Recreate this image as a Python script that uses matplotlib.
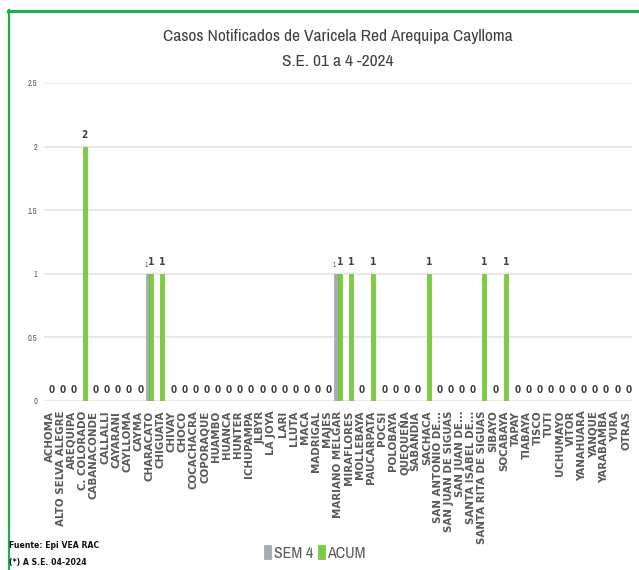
import matplotlib
matplotlib.use("Agg")
import matplotlib.pyplot as plt
from matplotlib.lines import Line2D
from matplotlib.patches import Patch
import numpy as np

districts = [
    "ACHOMA", "ALTO SELVA ALEGRE", "AREQUIPA", "C. COLORADO", "CABANACONDE",
    "CALLALLI", "CAYARANI", "CAYLLOMA", "CAYMA", "CHARACATO", "CHIGUATA",
    "CHIVAY", "CHOCO", "COCACHACRA", "COPORAQUE", "HUAMBO", "HUANCA",
    "HUNTER", "ICHUPAMPA", "JLBYR", "LA JOYA", "LARI", "LLUTA", "MACA",
    "MADRIGAL", "MAJES", "MARIANO MELGAR", "MIRAFLORES", "MOLLEBAYA",
    "PAUCARPATA", "POCSI", "POLOBAYA", "QUEQUEÑA", "SABANDIA", "SACHACA",
    "SAN ANTONIO DE...", "SAN JUAN DE SIGUAS", "SAN JUAN DE...",
    "SANTA ISABEL DE...", "SANTA RITA DE SIGUAS", "SIBAYO", "SOCABAYA",
    "TAPAY", "TIABAYA", "TISCO", "TUTI", "UCHUMAYO", "VITOR", "YANAHUARA",
    "YANQUE", "YARABAMBA", "YURA", "OTRAS",
]
sem4 = [0, 0, 0, 0, 0, 0, 0, 0, 0, 1, 0, 0, 0, 0, 0, 0, 0, 0, 0, 0, 0, 0,
        0, 0, 0, 0, 1, 0, 0, 0, 0, 0, 0, 0, 0, 0, 0, 0, 0, 0, 0, 0, 0, 0,
        0, 0, 0, 0, 0, 0, 0, 0, 0]
acum = [0, 0, 0, 2, 0, 0, 0, 0, 0, 1, 1, 0, 0, 0, 0, 0, 0, 0, 0, 0, 0, 0,
        0, 0, 0, 0, 1, 1, 0, 1, 0, 0, 0, 0, 1, 0, 0, 0, 0, 1, 0, 1, 0, 0,
        0, 0, 0, 0, 0, 0, 0, 0, 0]
yticks = [0, 0.5, 1, 1.5, 2, 2.5]
ytick_labels = ["0", "0.5", "1", "1.5", "2", "2.5"]

NARROW = ["Archivo Narrow", "DejaVu Sans"]
GREEN = "#78CF3A"
GRAY = "#A7ADB8"
TEXT = "#595959"
BOLD_COND = dict(family="DejaVu Sans", fontstretch="condensed", fontweight="bold")

fig = plt.figure(figsize=(6.39, 5.70), dpi=100)
fig.patch.set_facecolor("white")
W, H = 639, 570
ax = fig.add_axes([44 / W, 1 - 401 / H, (632 - 44) / W, (401 - 83) / H])

x = np.arange(len(districts))
bw = 0.34
ax.bar(x - 0.17, sem4, width=bw, color=GRAY, edgecolor="#8E95A1",
       linewidth=0.4, zorder=3, label="SEM 4")
ax.bar(x + 0.17, acum, width=bw, color=GREEN, edgecolor="#5FB22A",
       linewidth=0.4, zorder=3, label="ACUM")

for xi, v in zip(x, acum):
    ax.annotate(f"{v}", (xi + 0.17, v), xytext=(0, 6), textcoords="offset points",
                ha="center", va="baseline", fontsize=7.2, color="#404040",
                **BOLD_COND)
for xi, v in zip(x, sem4):
    if v:
        ax.annotate(f"{v}", (xi - 0.32, v), xytext=(0, 5), textcoords="offset points",
                    ha="center", va="baseline", fontsize=5, family=NARROW,
                    color="#595959")

ax.set_xlim(-0.5, len(districts) - 0.5)
ax.set_ylim(0, 2.5)
ax.set_yticks(yticks)
ax.set_yticklabels(ytick_labels, family=NARROW, fontsize=6, color=TEXT)
ax.set_xticks(x)
ax.set_xticklabels(districts, rotation=90, fontsize=7.4, fontweight="bold",
                   color=TEXT, family="DejaVu Sans")
ax.tick_params(axis="y", length=0, pad=5)
ax.tick_params(axis="x", length=0, pad=7)
for s in ax.spines.values():
    s.set_visible(False)
ax.grid(axis="y", color="#E4E4E4", linewidth=1.2, zorder=0)
ax.set_axisbelow(True)

fig.text(338 / W, 1 - 36 / H, "Casos Notificados de Varicela Red Arequipa Caylloma",
         ha="center", va="center", fontsize=12.5, family=NARROW, color="#404040")
fig.text(338 / W, 1 - 62 / H, "S.E. 01 a 4 -2024", ha="center", va="center",
         fontsize=12.5, family=NARROW, color="#404040")

handles = [Patch(facecolor=GRAY, edgecolor="#8E95A1", linewidth=0.4, label="SEM 4"),
           Patch(facecolor=GREEN, edgecolor="#5FB22A", linewidth=0.4, label="ACUM")]
fig.legend(handles=handles, loc="center", bbox_to_anchor=(315 / W, 1 - 553 / H),
           ncol=2, frameon=False, handlelength=0.45, handleheight=0.9,
           handletextpad=0.15, columnspacing=0.3,
           prop={"family": NARROW, "size": 11.5}, labelcolor=TEXT)

fig.text(9 / W, 1 - 546 / H, "Fuente: Epi VEA RAC", ha="left", va="center",
         fontsize=6.2, color="#111111", **BOLD_COND)
fig.text(9 / W, 1 - 562 / H, "(*) A S.E. 04-2024", ha="left", va="center",
         fontsize=6.2, color="#111111", **BOLD_COND)

# green chart-area frame (top and left edges)
fig.add_artist(Line2D([8.5 / W, 8.5 / W], [0, 1 - 10 / H], transform=fig.transFigure,
                      color="#17B04C", linewidth=1.6))
fig.add_artist(Line2D([8 / W, 1], [1 - 10.5 / H, 1 - 10.5 / H], transform=fig.transFigure,
                      color="#17B04C", linewidth=2.2))

fig.savefig("out.png", dpi=100, facecolor="white")
